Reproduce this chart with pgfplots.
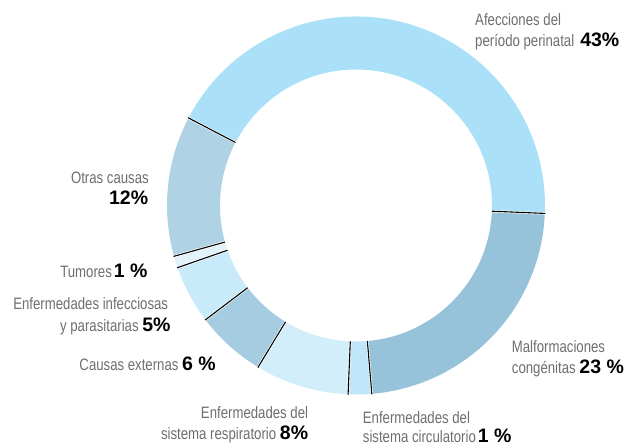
\documentclass[border=0pt]{standalone}
\usepackage{pgfplots}
\pgfplotsset{compat=1.18}
\usepackage{pgfplotstable}
\usepackage{fontspec}
\setmainfont{Liberation Sans}[FakeStretch=0.8]
\newfontfamily\numfont{Liberation Sans}

\definecolor{txt}{HTML}{6E6E6E}
\definecolor{c0}{HTML}{97C3DA}% Malformaciones
\definecolor{c1}{HTML}{BFE6F8}% Circulatorio
\definecolor{c2}{HTML}{D2EEFA}% Respiratorio
\definecolor{c3}{HTML}{A5CCE0}% Externas
\definecolor{c4}{HTML}{C8EAF9}% Infecciosas
\definecolor{c5}{HTML}{E2F2FA}% Tumores
\definecolor{c6}{HTML}{AFD3E4}% Otras
\definecolor{c7}{HTML}{ABE0F9}% Afecciones

\pgfplotstableread{
idx value
0 23
1 2
2 8
3 6
4 5
5 1
6 12
7 43
}\slices

\newcommand\lblfont{\fontsize{16.5}{21}\selectfont}
\newcommand\pct[1]{{\fontsize{19.5}{20}\selectfont\numfont\bfseries\color{black}#1}}

\begin{document}
\begin{tikzpicture}[lbl/.style={inner sep=0pt, text=txt, font=\lblfont}]
\begin{axis}[
  width=627pt, height=446pt, scale only axis,
  xmin=0, xmax=627, ymin=0, ymax=446,
  hide axis, clip=false,
]
\pgfplotstablegetrowsof{\slices}
\pgfmathtruncatemacro\N{\pgfplotsretval-1}
\def\cum{0}
\pgfplotsforeachungrouped \i in {0,...,\N}{%
  \pgfplotstablegetelem{\i}{value}\of\slices
  \let\val\pgfplotsretval
  \pgfmathsetmacro\aone{-2.4-\cum*3.6}%
  \pgfmathsetmacro\atwo{\aone-\val*3.6}%
  \pgfmathsetmacro\cum{\cum+\val}%
  \edef\temp{\noexpand\fill[c\i, shift={(axis cs:356,240.5)}] (\aone:189pt) arc[start angle=\aone, end angle=\atwo, radius=189pt] -- (\atwo:136pt) arc[start angle=\atwo, end angle=\aone, radius=136pt] -- cycle;}%
  \temp
}
\def\cum{0}
\pgfplotsforeachungrouped \i in {0,...,\N}{%
  \pgfplotstablegetelem{\i}{value}\of\slices
  \let\val\pgfplotsretval
  \pgfmathsetmacro\aone{-2.4-\cum*3.6}%
  \pgfmathsetmacro\cum{\cum+\val}%
  \edef\temp{\noexpand\draw[white, line width=2.4pt, shift={(axis cs:356,240.5)}] (\aone:136pt) -- (\aone:189pt);
    \noexpand\draw[black, line width=1.1pt, shift={(axis cs:356,240.5)}] (\aone:136pt) -- (\aone:189.5pt);}%
  \temp
}

% labels
\node[lbl, anchor=base west] at (axis cs:475,420) {Afecciones del};
\node[lbl, anchor=base west] at (axis cs:475,399.3) {período perinatal\hspace{6pt}\pct{43\%}};

\node[lbl, anchor=base west] at (axis cs:511.7,93.3) {Malformaciones};
\node[lbl, anchor=base west] at (axis cs:511.7,72.7) {congénitas \pct{23 \%}};

\node[lbl, anchor=base west] at (axis cs:362.7,22.5) {Enfermedades del};
\node[lbl, anchor=base west] at (axis cs:362.7,3) {sistema circulatorio\hspace{2pt}\pct{1 \%}};

\node[lbl, anchor=base east] at (axis cs:308.3,27.7) {Enfermedades del};
\node[lbl, anchor=base east] at (axis cs:308.3,6) {sistema respiratorio \pct{8\%}};

\node[lbl, anchor=base east] at (axis cs:216,75.3) {Causas externas \pct{6 \%}};

\node[lbl, anchor=base east] at (axis cs:168.3,136.7) {Enfermedades infecciosas};
\node[lbl, anchor=base east] at (axis cs:170.7,114.3) {y parasitarias \pct{5\%}};

\node[lbl, anchor=base east] at (axis cs:147.7,168.7) {Tumores\hspace{2pt}\pct{1 \%}};

\node[lbl, anchor=base east] at (axis cs:149,262) {Otras causas};
\node[lbl, anchor=base east] at (axis cs:148.3,241) {\pct{12\%}};
\end{axis}
\pgfresetboundingbox
\path[use as bounding box] (current axis.south west) rectangle (current axis.north east);
\end{tikzpicture}
\end{document}
